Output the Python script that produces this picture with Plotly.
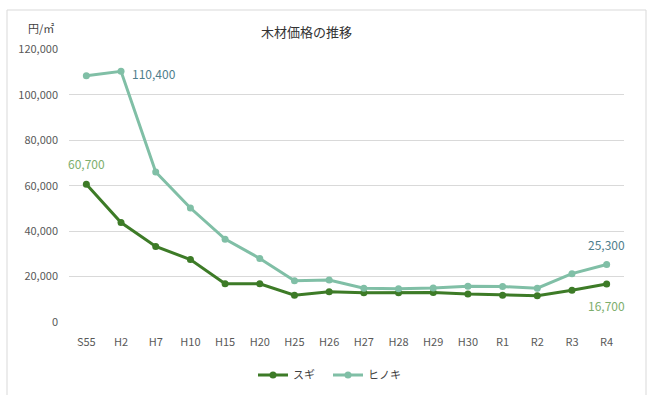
import plotly.graph_objects as go

categories = ["S55", "H2", "H7", "H10", "H15", "H20", "H25", "H26", "H27", "H28",
              "H29", "H30", "R1", "R2", "R3", "R4"]
sugi = [60700, 43800, 33300, 27500, 16900, 16800, 11800, 13300, 12900, 12900,
        13000, 12300, 11800, 11600, 14000, 16700]
hinoki = [108500, 110400, 66100, 50200, 36500, 28000, 18200, 18500, 14900, 14700,
          15000, 15800, 15600, 14900, 21300, 25300]
y_ticks = [0, 20000, 40000, 60000, 80000, 100000, 120000]
y_tick_labels = ["0", "20,000", "40,000", "60,000", "80,000", "100,000", "120,000"]

SUGI_COLOR = "#3D7B27"
HINOKI_COLOR = "#80BFA6"
SUGI_LABEL = "#7DAE6C"
HINOKI_LABEL = "#4F7E8C"
FONT = "Noto Sans CJK JP"

L, R, T, B = 69, 23, 49, 73
PW = 647 - L - R
PH = 395 - T - B
Y0 = T + PH  # pixel of plot bottom


def px_x(x):
    return (x - L) / PW


def px_y(y):
    return (Y0 - y) / PH


fig = go.Figure()
fig.add_trace(go.Scatter(x=categories, y=sugi, name="スギ", mode="lines+markers",
                         line=dict(color=SUGI_COLOR, width=3),
                         marker=dict(color=SUGI_COLOR, size=7)))
fig.add_trace(go.Scatter(x=categories, y=hinoki, name="ヒノキ", mode="lines+markers",
                         line=dict(color=HINOKI_COLOR, width=3),
                         marker=dict(color=HINOKI_COLOR, size=7)))


def fmt(v):
    return f"{v:,}"


annotations = [
    dict(x=categories[0], y=sugi[0], text=fmt(sugi[0]), showarrow=False,
         yshift=21, font=dict(color=SUGI_LABEL, size=12)),
    dict(x=categories[1], y=hinoki[1], text=fmt(hinoki[1]), showarrow=False,
         xanchor="left", xshift=9, yshift=-2, font=dict(color=HINOKI_LABEL, size=12)),
    dict(x=categories[-1], y=hinoki[-1], text=fmt(hinoki[-1]), showarrow=False,
         yshift=20, font=dict(color=HINOKI_LABEL, size=12)),
    dict(x=categories[-1], y=sugi[-1], text=fmt(sugi[-1]), showarrow=False,
         yshift=-21, font=dict(color=SUGI_LABEL, size=12)),
    dict(xref="paper", yref="paper", x=px_x(306), y=px_y(31),
         xanchor="center", yanchor="middle",
         text="木材価格の推移", showarrow=False, font=dict(size=13, color="#333333")),
    dict(xref="paper", yref="paper", x=px_x(41), y=px_y(28),
         xanchor="center", yanchor="middle",
         text="円/㎡", showarrow=False, font=dict(size=11, color="#404040")),
]

fig.update_layout(
    width=647, height=395,
    margin=dict(l=L, r=R, t=T, b=B, autoexpand=False),
    paper_bgcolor="white", plot_bgcolor="white",
    font=dict(family=FONT, size=11, color="#595959"),
    showlegend=True,
    legend=dict(orientation="h", x=px_x(328), xanchor="center",
                y=px_y(375), yanchor="middle",
                font=dict(size=11, color="#404040"),
                itemwidth=30, entrywidth=30, entrywidthmode="pixels",
                tracegroupgap=0),
    xaxis=dict(type="category", range=[-0.5, 15.5], showgrid=False,
               showline=False, zeroline=False, ticks="", tickfont=dict(size=11),
               ticklabelstandoff=12, automargin=False, fixedrange=True),
    yaxis=dict(range=[0, 120250], tickvals=y_ticks, ticktext=y_tick_labels,
               showgrid=True, gridcolor="#D9D9D9", gridwidth=1, zeroline=False,
               showline=False, ticks="", ticklabelstandoff=10,
               tickfont=dict(size=11), automargin=False),
    annotations=annotations,
    shapes=[dict(type="rect", xref="paper", yref="paper",
                 x0=px_x(7), x1=px_x(646),
                 y0=px_y(420), y1=px_y(10),
                 line=dict(color="#D9D9D9", width=1), layer="below")],
)

fig.write_html("out.html")
